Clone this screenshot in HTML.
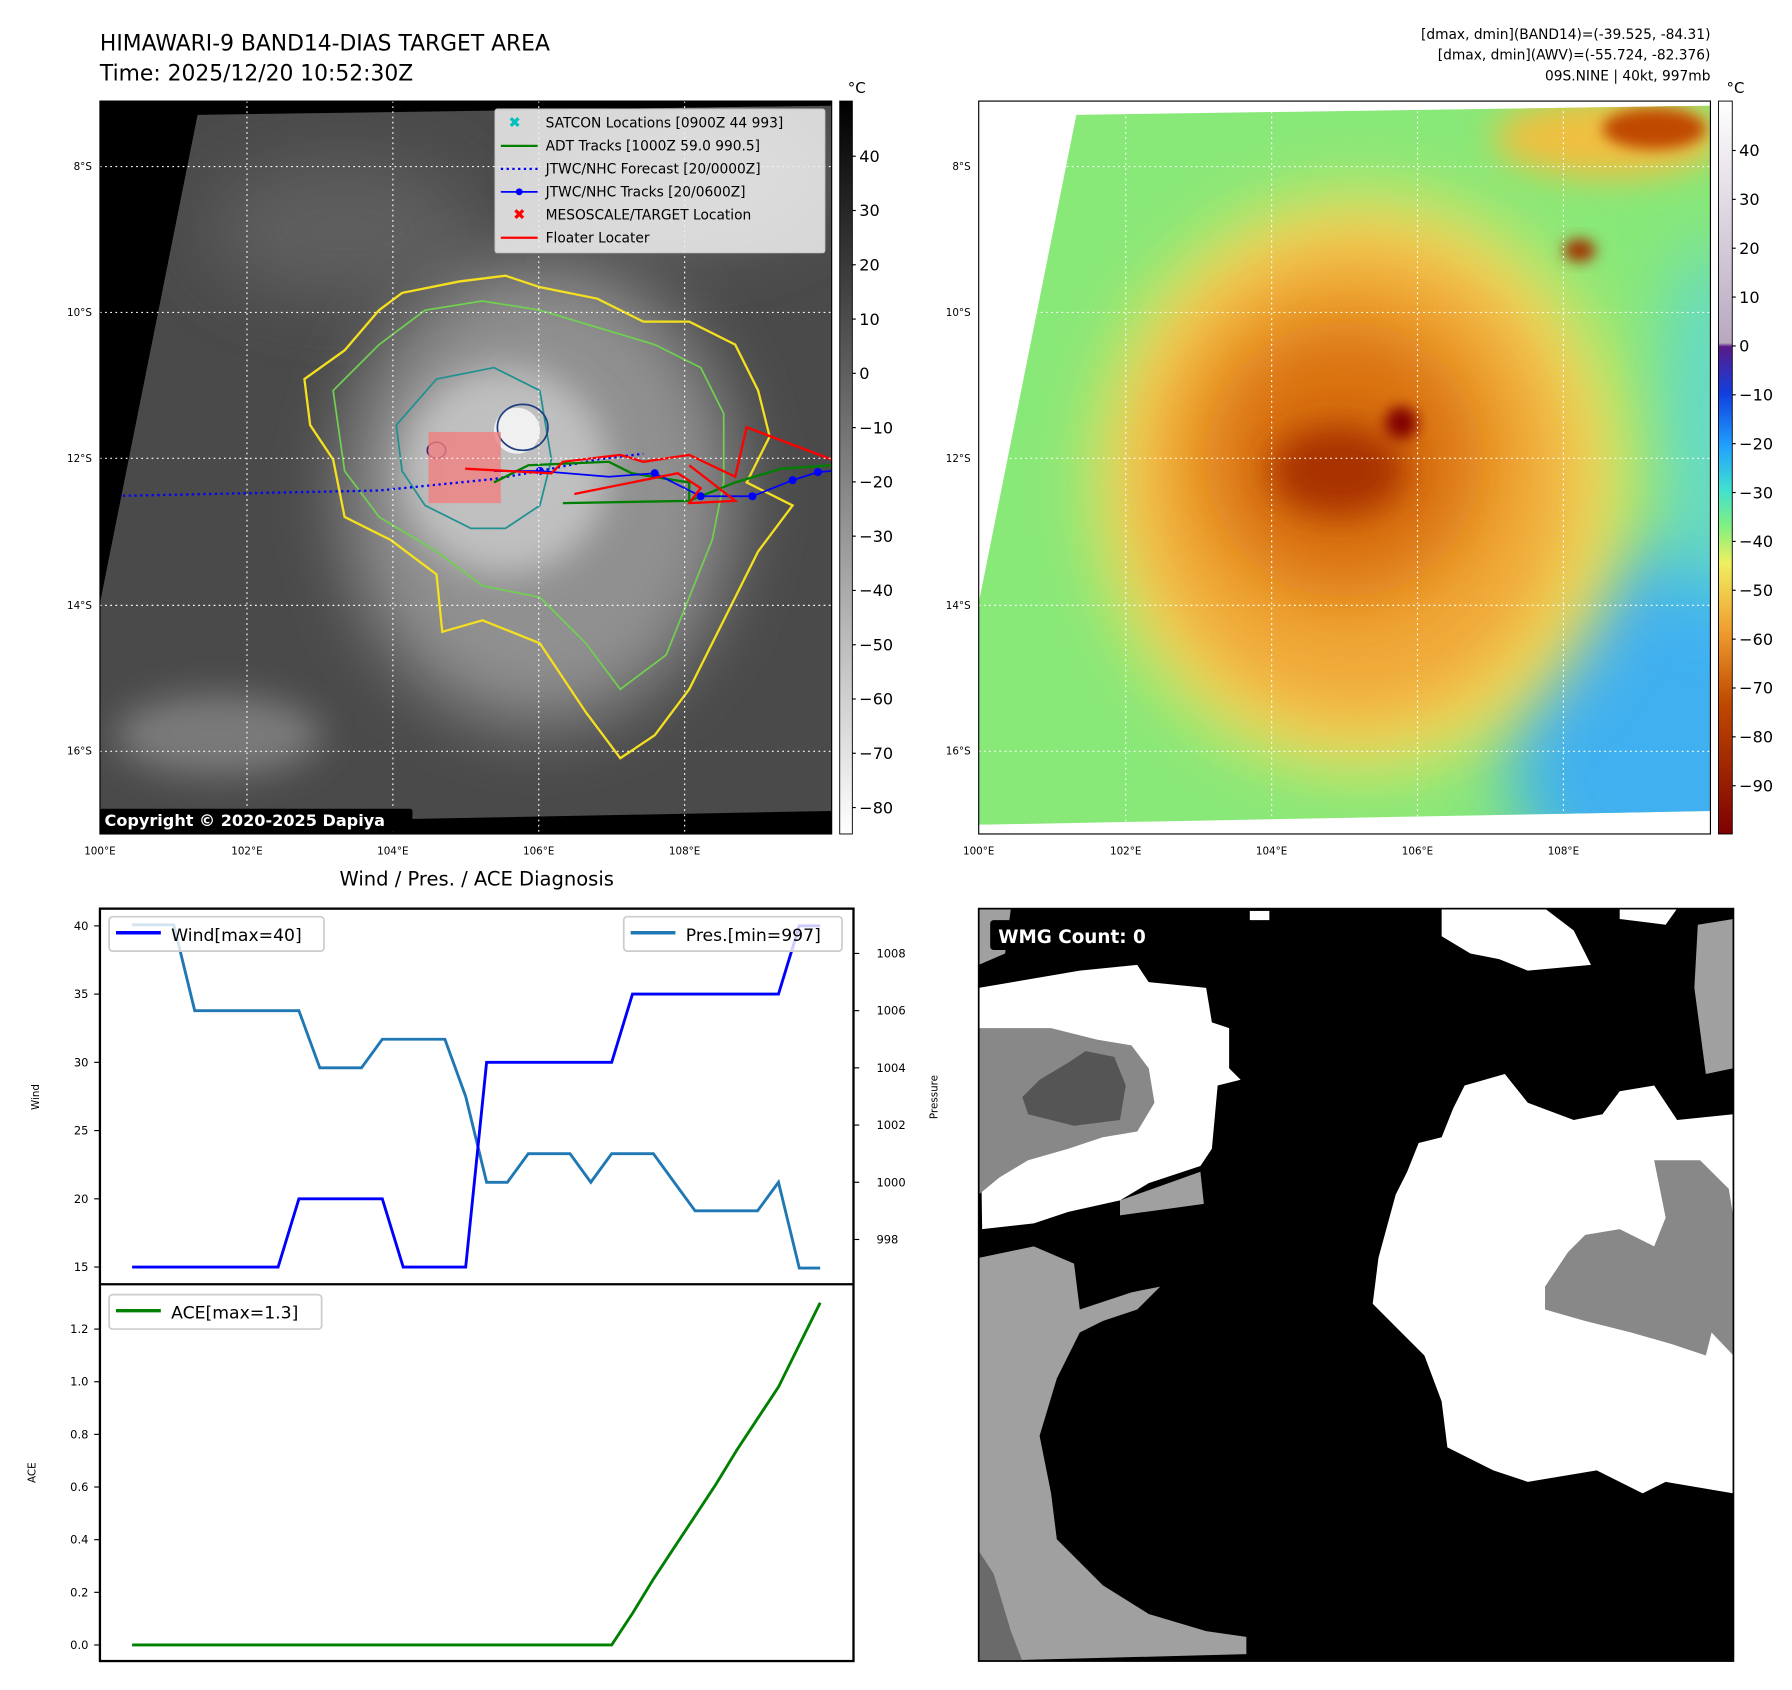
<!DOCTYPE html>
<html><head><meta charset="utf-8"><style>
html,body{margin:0;padding:0;background:#fff;}
svg{display:block;font-family:"DejaVu Sans","Liberation Sans",sans-serif;}
</style></head><body>
<svg id="root" width="1792" height="1690" viewBox="0 0 1560 1471.2" preserveAspectRatio="none" xmlns="http://www.w3.org/2000/svg">
<defs>
<filter id="b30" x="-50%" y="-50%" width="200%" height="200%"><feGaussianBlur stdDeviation="30"/></filter>
<filter id="b15" x="-50%" y="-50%" width="200%" height="200%"><feGaussianBlur stdDeviation="15"/></filter>
<filter id="b6" x="-50%" y="-50%" width="200%" height="200%"><feGaussianBlur stdDeviation="6"/></filter>
<clipPath id="c1"><polygon points="172,100 724,92 724,706 87,718 87,525"/></clipPath>
<clipPath id="c2"><polygon points="937,100 1489,92 1489,706 852,718 852,525"/></clipPath>
<clipPath id="c4"><rect x="852" y="791" width="657" height="655"/></clipPath>
<linearGradient id="cb1" x1="0" y1="0" x2="0" y2="1"><stop offset="0" stop-color="#000"/><stop offset="1" stop-color="#fff"/></linearGradient>
<linearGradient id="cb2" x1="0" y1="0" x2="0" y2="1">
<stop offset="0" stop-color="#ffffff"/><stop offset="0.33" stop-color="#b8a8c0"/><stop offset="0.335" stop-color="#5a1a8a"/>
<stop offset="0.40" stop-color="#1040e0"/><stop offset="0.47" stop-color="#20a0ff"/><stop offset="0.53" stop-color="#40e0d0"/>
<stop offset="0.58" stop-color="#80f080"/><stop offset="0.63" stop-color="#f0f060"/><stop offset="0.72" stop-color="#f0a030"/>
<stop offset="0.82" stop-color="#c04a00"/><stop offset="1" stop-color="#800000"/></linearGradient>
</defs>

<text x="87" y="44" font-size="19">HIMAWARI-9 BAND14-DIAS TARGET AREA</text>
<text x="87" y="70" font-size="19">Time: 2025/12/20 10:52:30Z</text>
<g font-size="12" text-anchor="end">
<text x="1489" y="34">[dmax, dmin](BAND14)=(-39.525, -84.31)</text>
<text x="1489" y="52">[dmax, dmin](AWV)=(-55.724, -82.376)</text>
<text x="1489" y="70">09S.NINE | 40kt, 997mb</text>
</g>

<g>
<rect x="87" y="88" width="637" height="638" fill="#000"/>
<g clip-path="url(#c1)">
<rect x="87" y="88" width="637" height="638" fill="#4a4a4a"/>
<ellipse cx="300" cy="200" rx="120" ry="60" fill="#5e5e5e" filter="url(#b30)"/>
<ellipse cx="190" cy="640" rx="90" ry="35" fill="#7a7a7a" filter="url(#b15)"/>
<ellipse cx="600" cy="150" rx="120" ry="60" fill="#6a6a6a" filter="url(#b30)"/>
<ellipse cx="470" cy="430" rx="170" ry="200" fill="#909090" filter="url(#b30)"/>
<ellipse cx="440" cy="410" rx="90" ry="90" fill="#c0c0c0" filter="url(#b15)"/>
<ellipse cx="450" cy="375" rx="20" ry="20" fill="#f0f0f0"/>
<polygon fill="none" stroke="#f5e020" stroke-width="2" points="265,330 300,305 330,270 350,255 400,245 440,240 470,250 520,260 560,280 600,280 640,300 660,340 670,380 650,420 690,440 660,480 640,520 620,560 600,600 570,640 540,660 510,620 470,560 420,540 385,550 380,500 340,470 300,450 290,400 270,370"/>
<polygon fill="none" stroke="#70d050" stroke-width="1.5" points="290,340 330,300 370,270 420,262 470,270 520,285 570,300 610,320 630,360 630,420 620,470 600,520 580,570 540,600 510,560 470,520 420,510 380,480 330,450 300,410"/>
<polygon fill="none" stroke="#209090" stroke-width="1.5" points="345,370 380,330 430,320 470,340 480,400 470,440 440,460 410,460 370,440 350,410"/>
<ellipse cx="455" cy="372" rx="22" ry="20" fill="none" stroke="#204080" stroke-width="1.5"/>
<ellipse cx="380" cy="392" rx="8" ry="7" fill="none" stroke="#502070" stroke-width="1.5"/>
<rect x="373" y="376" width="63" height="62" fill="#f08080" opacity="0.8"/>
<polyline fill="none" stroke="#0000ff" stroke-width="2" stroke-dasharray="2,3" points="87,432 330,427 430,417 470,410 520,400 560,395"/>
<polyline fill="none" stroke="#008000" stroke-width="2" points="430,420 460,405 530,402 550,412 600,420 600,436 490,438 600,436 640,420 680,408 724,405"/>
<polyline fill="none" stroke="#0000ff" stroke-width="1.5" points="430,410 470,410 530,415 570,412 610,432 655,432 690,418 712,411 724,410"/>
<g fill="#0000ff"><circle cx="470" cy="410" r="3.5"/><circle cx="570" cy="412" r="3.5"/><circle cx="610" cy="432" r="3.5"/><circle cx="655" cy="432" r="3.5"/><circle cx="690" cy="418" r="3.5"/><circle cx="712" cy="411" r="3.5"/></g>
<polyline fill="none" stroke="#ff0000" stroke-width="2" points="405,408 460,411 480,412 490,402 540,396 560,402 600,396 640,415 650,372 724,400"/>
<polyline fill="none" stroke="#ff0000" stroke-width="2" points="500,430 590,412 610,425 600,438 640,436 600,405"/>
</g>
<g stroke="#fff" stroke-width="1" stroke-dasharray="1.5,3">
<line x1="215" y1="88" x2="215" y2="726"/><line x1="342" y1="88" x2="342" y2="726"/><line x1="469" y1="88" x2="469" y2="726"/><line x1="596" y1="88" x2="596" y2="726"/>
<line x1="87" y1="145" x2="724" y2="145"/><line x1="87" y1="272" x2="724" y2="272"/><line x1="87" y1="399" x2="724" y2="399"/><line x1="87" y1="527" x2="724" y2="527"/><line x1="87" y1="654" x2="724" y2="654"/>
</g>
<rect x="87" y="88" width="637" height="638" fill="none" stroke="#000" stroke-width="1"/>
<g>
<rect x="431" y="95" width="287" height="125" fill="#f0f0f0" fill-opacity="0.85" stroke="#ccc" rx="2"/>
<g font-size="12">
<text x="448" y="111" fill="#00c0c0" font-size="13" text-anchor="middle">✖</text><text x="475" y="111">SATCON Locations [0900Z 44 993]</text>
<line x1="436" y1="127" x2="468" y2="127" stroke="#008000" stroke-width="2"/><text x="475" y="131">ADT Tracks [1000Z 59.0 990.5]</text>
<line x1="436" y1="147" x2="468" y2="147" stroke="#0000ff" stroke-width="2" stroke-dasharray="2,3"/><text x="475" y="151">JTWC/NHC Forecast [20/0000Z]</text>
<line x1="436" y1="167" x2="468" y2="167" stroke="#0000ff" stroke-width="1.5"/><circle cx="452" cy="167" r="3" fill="#0000ff"/><text x="475" y="171">JTWC/NHC Tracks [20/0600Z]</text>
<text x="452" y="191" fill="#ff0000" font-size="13" text-anchor="middle">✖</text><text x="475" y="191">MESOSCALE/TARGET Location</text>
<line x1="436" y1="207" x2="468" y2="207" stroke="#ff0000" stroke-width="2"/><text x="475" y="211">Floater Locater</text>
</g></g>
<rect x="87" y="704" width="272" height="20" fill="#000" rx="2"/>
<text x="91" y="719" fill="#fff" font-size="14" font-weight="bold">Copyright © 2020-2025 Dapiya</text>
<g font-size="9" text-anchor="end">
<text x="80" y="148">8°S</text><text x="80" y="275">10°S</text><text x="80" y="402">12°S</text><text x="80" y="530">14°S</text><text x="80" y="657">16°S</text>
</g>
<g font-size="9" text-anchor="middle">
<text x="87" y="744">100°E</text><text x="215" y="744">102°E</text><text x="342" y="744">104°E</text><text x="469" y="744">106°E</text><text x="596" y="744">108°E</text>
</g>
</g>
<g>
<rect x="731" y="88" width="11" height="638" fill="url(#cb1)" stroke="#000" stroke-width="0.8"/>
<text x="738" y="81" font-size="13">°C</text>
<g font-size="14" id="cb1labels"></g>
</g>

<g>
<g clip-path="url(#c2)">
<rect x="852" y="88" width="637" height="638" fill="#88e878"/>
<ellipse cx="1480" cy="640" rx="170" ry="170" fill="#40b0f0" filter="url(#b30)"/>
<ellipse cx="1489" cy="370" rx="40" ry="160" fill="#60d8d0" filter="url(#b30)"/>
<ellipse cx="1400" cy="120" rx="100" ry="35" fill="#f0c040" filter="url(#b15)"/>
<ellipse cx="1440" cy="112" rx="45" ry="18" fill="#c04a00" filter="url(#b6)"/>
<ellipse cx="1185" cy="420" rx="230" ry="250" fill="#f0e060" filter="url(#b30)"/>
<ellipse cx="1180" cy="420" rx="190" ry="210" fill="#f0a838" filter="url(#b30)"/>
<ellipse cx="1170" cy="400" rx="120" ry="120" fill="#d87010" filter="url(#b30)"/>
<ellipse cx="1165" cy="410" rx="60" ry="40" fill="#a83000" filter="url(#b15)"/>
<ellipse cx="1220" cy="368" rx="14" ry="14" fill="#800000" filter="url(#b6)"/>
<ellipse cx="1375" cy="218" rx="14" ry="10" fill="#a03000" filter="url(#b6)"/>
</g>
<g stroke="#fff" stroke-width="1" stroke-dasharray="1.5,3">
<line x1="980" y1="88" x2="980" y2="726"/><line x1="1107" y1="88" x2="1107" y2="726"/><line x1="1234" y1="88" x2="1234" y2="726"/><line x1="1361" y1="88" x2="1361" y2="726"/>
<line x1="852" y1="145" x2="1489" y2="145"/><line x1="852" y1="272" x2="1489" y2="272"/><line x1="852" y1="399" x2="1489" y2="399"/><line x1="852" y1="527" x2="1489" y2="527"/><line x1="852" y1="654" x2="1489" y2="654"/>
</g>
<rect x="852" y="88" width="637" height="638" fill="none" stroke="#000" stroke-width="1"/>
<g font-size="9" text-anchor="end"><text x="845" y="148">8°S</text><text x="845" y="275">10°S</text><text x="845" y="402">12°S</text><text x="845" y="530">14°S</text><text x="845" y="657">16°S</text></g>
<g font-size="9" text-anchor="middle"><text x="852" y="744">100°E</text><text x="980" y="744">102°E</text><text x="1107" y="744">104°E</text><text x="1234" y="744">106°E</text><text x="1361" y="744">108°E</text></g>
</g>
<g>
<rect x="1496" y="88" width="12" height="638" fill="url(#cb2)" stroke="#000" stroke-width="0.8"/>
<text x="1503" y="81" font-size="13">°C</text>
<g font-size="14" id="cb2labels"></g>
</g>

<text x="415" y="771" font-size="17" text-anchor="middle">Wind / Pres. / ACE Diagnosis</text>
<g id="chart"></g>

<g>
<g clip-path="url(#c4)">
<rect x="852" y="791" width="657" height="655" fill="#000"/>
<polygon fill="#a0a0a0" points="852,1095 900,1085 935,1100 940,1140 985,1125 1010,1120 990,1140 960,1150 940,1160 920,1200 905,1250 915,1300 920,1340 960,1380 1000,1405 1050,1420 1085,1425 1085,1440 852,1446"/>
<polygon fill="#6a6a6a" points="852,1350 865,1370 880,1420 890,1446 852,1446"/>
<polygon fill="#a0a0a0" points="852,791 880,791 875,830 852,840"/>
<polygon fill="#a0a0a0" points="1478,805 1509,800 1509,930 1485,935 1475,860"/>
<polygon fill="#a0a0a0" points="975,1045 1045,1020 1048,1048 975,1058"/>
<polygon fill="#fff" points="852,860 940,845 990,840 1000,855 1050,860 1055,890 1070,895 1070,930 1080,940 1060,945 1055,1000 1045,1015 1000,1030 975,1045 930,1055 900,1065 855,1070"/>
<polygon fill="#888" points="852,895 915,895 955,905 985,910 1000,930 1005,960 990,985 960,990 930,1000 895,1010 870,1025 852,1040"/>
<polygon fill="#555" points="905,940 930,925 945,915 970,920 980,945 975,975 935,980 895,970 890,955"/>
<polygon fill="#fff" points="1255,791 1345,791 1370,810 1385,840 1330,845 1305,835 1280,830 1255,815"/>
<polygon fill="#fff" points="1410,791 1460,791 1450,805 1410,800"/>
<rect x="1088" y="793" width="17" height="8" fill="#fff"/>
<polygon fill="#fff" points="1275,945 1310,935 1330,960 1370,975 1395,970 1410,950 1440,945 1460,975 1509,970 1509,1300 1450,1290 1430,1300 1390,1280 1330,1290 1300,1280 1260,1260 1255,1220 1240,1180 1195,1135 1200,1095 1215,1040 1225,1020 1235,995 1255,990 1265,965"/>
<polygon fill="#888" points="1345,1120 1365,1090 1380,1075 1410,1070 1440,1085 1450,1060 1440,1010 1480,1010 1505,1035 1509,1060 1509,1180 1490,1160 1485,1180 1455,1170 1420,1160 1380,1150 1345,1140"/>
</g>
<rect x="852" y="791" width="657" height="655" fill="none" stroke="#000" stroke-width="1.5"/>
<rect x="862" y="801" width="162" height="26" fill="#000" rx="3"/>
<text x="869" y="821" fill="#fff" font-size="16" font-weight="bold">WMG Count: 0</text>
</g>

<script>
const wind=[15,15,15,15,15,15,15,15,20,20,20,20,20,15,15,15,15,30,30,30,30,30,30,30,35,35,35,35,35,35,35,35,40,40];
const pres=[1009,1009,1009,1006,1006,1006,1006,1006,1006,1004,1004,1004,1005,1005,1005,1005,1003,1000,1000,1001,1001,1001,1000,1001,1001,1001,1000,999,999,999,999,1000,997,997];
const ace=[0,0,0,0,0,0,0,0,0,0,0,0,0,0,0,0,0,0,0,0,0,0,0,0,0.12,0.25,0.37,0.49,0.61,0.74,0.86,0.98,1.14,1.30];
const windTicks=[15,20,25,30,35,40];
const presTicks=[998,1000,1002,1004,1006,1008];
const aceTicks=[0.0,0.2,0.4,0.6,0.8,1.0,1.2];
const cb1Ticks=[40,30,20,10,0,-10,-20,-30,-40,-50,-60,-70,-80];
const cb2Ticks=[40,30,20,10,0,-10,-20,-30,-40,-50,-60,-70,-80,-90];

const NS='http://www.w3.org/2000/svg';
function mk(tag,attrs,parent,txt){const e=document.createElementNS(NS,tag);for(const k in attrs)e.setAttribute(k,attrs[k]);if(txt!==undefined)e.textContent=txt;parent.appendChild(e);return e;}
const fmtT=v=>(v<0?'\u2212'+(-v):''+v);
const cb1=document.getElementById('cb1labels');
const cb1Y=v=>136+(40-v)*(703-136)/120;
cb1Ticks.forEach(v=>{const t=mk('text',{x:748,y:cb1Y(v)+5},cb1,fmtT(v));


mk('line',{x1:742,x2:745,y1:cb1Y(v),y2:cb1Y(v),stroke:'#000'},cb1);});
const cb2=document.getElementById('cb2labels');
const cb2Y=v=>131+(40-v)*(684-131)/130;
cb2Ticks.forEach(v=>{const t=mk('text',{x:1514,y:cb2Y(v)+5},cb2,fmtT(v));


mk('line',{x1:1508,x2:1511,y1:cb2Y(v),y2:cb2Y(v),stroke:'#000'},cb2);});

const g=document.getElementById('chart');
const X=i=>115+i*(714-115)/33;
const YW=w=>1103-(w-15)*(1103-806)/25;
const YP=p=>830+(1008-p)*(1079-830)/10;
const YA=a=>1432-a*(1432-1157)/1.2;
const L=87,R=743,T=791,M=1118,B=1446;
mk('rect',{x:L,y:T,width:R-L,height:B-T,fill:'#fff'},g);
function poly(arr,fy,color,name){const p=mk('polyline',{points:arr.map((v,i)=>X(i).toFixed(1)+','+fy(v).toFixed(1)).join(' '),fill:'none',stroke:color,'stroke-width':2.5},g);

}
poly(pres,YP,'#1f77b4','pressure-line');
poly(wind,YW,'#0000ff','wind-line');
poly(ace,YA,'#008000','ace-line');
windTicks.forEach(v=>{mk('line',{x1:L-5,x2:L,y1:YW(v),y2:YW(v),stroke:'#000'},g);const t=mk('text',{x:L-10,y:YW(v)+3.5,'font-size':10,'text-anchor':'end'},g,v);

});
presTicks.forEach(v=>{mk('line',{x1:R,x2:R+5,y1:YP(v),y2:YP(v),stroke:'#000'},g);const t=mk('text',{x:R+20,y:YP(v)+3.5,'font-size':10},g,v);

});
aceTicks.forEach(v=>{mk('line',{x1:L-5,x2:L,y1:YA(v),y2:YA(v),stroke:'#000'},g);const t=mk('text',{x:L-10,y:YA(v)+3.5,'font-size':10,'text-anchor':'end'},g,v.toFixed(1));

});
mk('rect',{x:L,y:T,width:R-L,height:B-T,fill:'none',stroke:'#000','stroke-width':2},g);
mk('line',{x1:L,x2:R,y1:M,y2:M,stroke:'#000','stroke-width':2},g);
mk('text',{x:0,y:0,'font-size':9,transform:'translate(34,955) rotate(-90)','text-anchor':'middle'},g,'Wind');
mk('text',{x:0,y:0,'font-size':9,transform:'translate(816,955) rotate(-90)','text-anchor':'middle'},g,'Pressure');
mk('text',{x:0,y:0,'font-size':9,transform:'translate(31,1282) rotate(-90)','text-anchor':'middle'},g,'ACE');
function legend(x,y,w,color,label,name){const lg=mk('g',{},g);


mk('rect',{x:x,y:y,width:w,height:30,fill:'#fff','fill-opacity':0.8,stroke:'#ccc','stroke-width':1.5,rx:3},lg);
mk('line',{x1:x+6,x2:x+45,y1:y+14,y2:y+14,stroke:color,'stroke-width':3},lg);
mk('text',{x:x+54,y:y+21,'font-size':15},lg,label);}
legend(95,798,187,'#0000ff','Wind[max=40]','wind-legend');
legend(543,798,190,'#1f77b4','Pres.[min=997]','pressure-legend');
legend(95,1127,185,'#008000','ACE[max=1.3]','ace-legend');
</script>
</svg>
</body></html>
